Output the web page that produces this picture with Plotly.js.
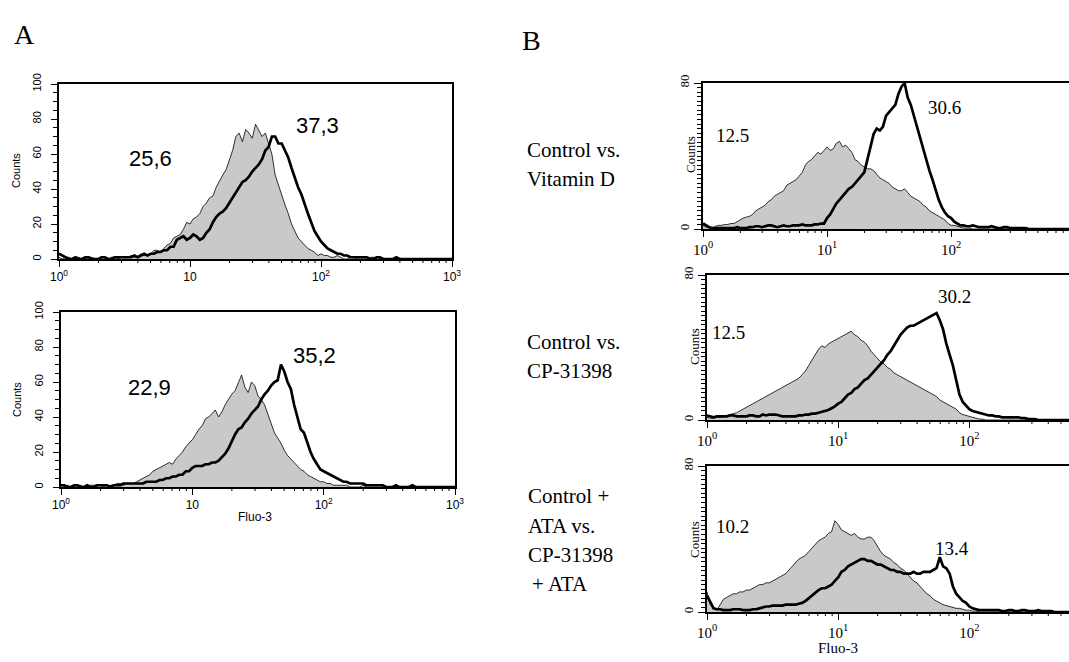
<!DOCTYPE html>
<html>
<head>
<meta charset="utf-8">
<script src="https://cdn.plot.ly/plotly-3.0.1.min.js"></script>
<style>
  html, body { margin: 0; padding: 0; background: #fff; }
  #chart { width: 1069px; height: 662px; }
</style>
</head>
<body>
<div id="chart"></div>
<script>
// ---- Data ----
// Histogram bins: log10 of Fluo-3 fluorescence, 0 .. 3 in steps of 0.025
const logBins = [
  0.000,0.025,0.050,0.075,0.100,0.125,0.150,0.175,0.200,0.225,0.250,0.275,0.300,0.325,0.350,0.375,0.400,0.425,0.450,0.475,0.500,
  0.525,0.550,0.575,0.600,0.625,0.650,0.675,0.700,0.725,0.750,0.775,0.800,0.825,0.850,0.875,0.900,0.925,0.950,0.975,1.000,
  1.025,1.050,1.075,1.100,1.125,1.150,1.175,1.200,1.225,1.250,1.275,1.300,1.325,1.350,1.375,1.400,1.425,1.450,1.475,1.500,
  1.525,1.550,1.575,1.600,1.625,1.650,1.675,1.700,1.725,1.750,1.775,1.800,1.825,1.850,1.875,1.900,1.925,1.950,1.975,2.000,
  2.025,2.050,2.075,2.100,2.125,2.150,2.175,2.200,2.225,2.250,2.275,2.300,2.325,2.350,2.375,2.400,2.425,2.450,2.475,2.500,
  2.525,2.550,2.575,2.600,2.625,2.650,2.675,2.700,2.725,2.750,2.775,2.800,2.825,2.850,2.875,2.900,2.925,2.950,2.975,3.000];

// Panel A, top (counts 0-100)
const a1Control = [1,0,1,1,0,1,1,0,0,1,1,0,0,1,1,0,1,1,0,1,1,
  1,2,1,1,3,2,2,3,5,5,4,6,8,9,12,13,14,17,21,20,
  23,24,26,30,32,35,36,41,45,48,51,57,62,70,72,67,74,72,69,77,
  73,70,72,66,60,48,42,36,31,26,20,16,12,10,8,6,5,4,2,3,
  2,2,1,1,2,1,0,0,1,1,0,0,0,0,1,1,0,0,0,0,
  0,0,0,0,0,0,0,0,0,0,0,0,0,0,0,0,0,0,0,0];
const a1Treated = [3,2,1,0,0,1,0,0,1,1,0,0,0,1,1,0,0,1,1,1,1,
  1,1,2,1,2,3,2,3,3,4,4,5,5,7,7,11,12,13,11,12,
  14,13,11,12,15,17,21,24,26,27,29,32,35,38,41,44,45,47,50,52,
  54,57,62,64,70,70,66,66,62,58,52,46,41,37,31,26,21,16,13,10,
  8,6,5,4,3,3,2,2,1,1,1,1,1,1,0,0,1,1,0,0,
  0,0,1,0,0,0,0,0,0,0,0,0,0,0,0,0,0,0,0,0];
// Panel A, bottom
const a2Control = [0,0,1,0,0,1,1,0,0,1,1,1,1,0,0,1,1,2,2,1,2,
  2,2,3,4,5,6,7,9,10,11,12,13,14,13,16,18,20,23,25,27,
  30,33,35,39,40,42,44,40,43,47,50,53,55,60,64,57,54,60,58,52,
  50,47,42,36,31,28,25,21,18,16,14,12,10,9,7,6,5,4,3,3,
  2,2,1,1,1,1,1,0,0,0,0,1,0,0,0,0,0,0,0,0,
  0,0,0,0,0,0,0,0,0,0,0,0,0,0,0,0,0,0,0,0];
const a2Treated = [1,1,0,0,1,1,0,0,1,0,0,1,1,1,1,0,1,1,1,2,2,
  2,2,2,2,2,3,3,3,3,4,4,5,5,6,6,7,7,9,9,11,
  12,12,12,13,13,14,14,15,17,19,22,26,30,33,34,37,39,42,44,46,
  50,53,55,58,60,61,70,66,60,56,47,40,33,31,25,20,16,13,10,9,
  8,7,6,5,4,3,3,2,2,2,2,2,1,1,1,1,1,1,0,0,
  0,1,0,0,0,0,1,0,0,0,0,0,0,0,0,0,0,0,0,0];
// Panel B: Control vs. Vitamin D (counts 0-80)
const b1Control = [2,1,1,0.5,1.5,2,2,2.5,2.5,3,3,4,5,6,6.5,7,8,10,11,12,13,
  15,16,18,19,20,21,24,25,26,27,29,31,35,37,38,40,42,41,43,45,
  43,44,47,48,45,46,44,42,38,37,35,34,33,33,32,30,28,27,26,25,
  23,22,21,21,22,20,18,17,16,15,13,12,10,9,8,7,6,5,3,2,
  2,1.5,1,0.5,0.5,0.5,0,0,0,0,0,0,0,0,0,0,0,0,0,0,
  0,0,0,0,0,0,0,0,0,0,0,0,0,0,0,0,0,0,0,0];
const b1Treated = [3,2,1,0.5,0.5,0.5,0.5,0.5,0.5,0.5,0.5,1,0.5,0.5,0.5,1,1,1.5,1.5,1,1.5,
  2,2,1.5,1,1.5,2,1.5,1.5,2,2,2,2.5,2,2,2,2.5,2.5,3,3,6,
  8,11,14,16,18,20,22,23,25,27,29,31,38,45,52,55,54,56,62,64,
  66,68,74,78,80,72,68,62,56,49,43,38,32,27,21,16,12,9,7,6,
  4,3,2,2,1.5,1.5,2,1.5,1,1,1,1,1.5,1,0.5,0.5,1,1,0.5,0.5,
  0.5,0.5,0.5,0.5,0,0,0,0,0,0,0,0,0,0,0,0,0,0,0,0];
// Panel B: Control vs. CP-31398
const b2Control = [1.5,1,1,1.5,1.5,2,2,3,3.5,4,5,6,7,8,9,10,11,12,13,14,15,
  16,17,18,19,20,21,22,23,25,27,30,33,36,39,41,40,42,43,44,45,
  46,47,48,49,47,46,44,43,41,38,36,34,32,31,29,28,26,25,24,23,
  22,21,20,19,18,17,16,15,14,13,11,10,9,8,7,6,4,3,2.5,2,
  1.5,1,0.5,0.5,0,0,0,0,0,0,0,0,0,0,0,0,0,0,0,0,
  0,0,0,0,0,0,0,0,0,0,0,0,0,0,0,0,0,0,0,0];
const b2Treated = [2.5,2,1.5,2,2,2,2,2.5,2.5,2,2,2,2,2.5,2.5,2,2,3,2.5,3,3,
  3,2.5,2,2,2,2,2,2.5,2.5,3,3,3.5,3.5,4,4.5,5,5.5,6.5,7.5,9,
  10,12,14,15,17,18,20,22,23,25,27,29,31,33,36,38,41,44,47,49,
  51,52,52,53,54,55,56,57,58,59,55,50,42,36,30,22,14,10,8,6,
  5,4.5,4,3.5,3,2.5,2.5,2,2,1.5,1.5,1.5,1.5,1.5,1.5,1,1,0.5,0.5,0.5,
  0,0,0,0,0,0,0,0,0,0,0,0,0,0,0,0,0,0,0,0];
// Panel B: Control + ATA vs. CP-31398 + ATA
const b3Control = [11,4,2,1,4,7,8,9,10,10,11,11,12,12,13,14,15,15,16,16,17,
  18,19,20,21,23,25,27,29,30,31,33,35,37,39,40,41,43,44,50,48,
  45,44,43,42,43,41,40,40,41,41,39,36,33,31,30,29,27,26,24,23,
  21,19,17,16,14,12,10,9,7,6,5,4,3.5,3,2.5,2,2,1.5,1,1,
  0.5,0.5,0,0,0,0,0,0,0,0,0,0,0,0,0,0,0,0,0,0,
  0,0,0,0,0,0,0,0,0,0,0,0,0,0,0,0,0,0,0,0];
const b3Treated = [9,5,2,1.5,1.5,1,1,1,1.5,1.5,1.5,1,1,1,1.5,1.5,2,2.5,3,3,3.5,
  3.5,3.5,3.5,4,4,4,4,4.5,5,6,7.5,9,11,12,13,13,14,15,17,19,
  22,23,25,26,27,28,29,29,28,28,27,26,26,25,24,23,23,22,22,21,
  21,21,22,21,21,22,22,22,23,24,30,25,24,21,14,10,8,6,5,3,
  2,1.5,1,1,1,1,1,1,1,0.5,0.5,1,1,0.5,0.5,1,1,0.5,0.5,0.5,
  1,0.5,0.5,0.5,0.5,0,0,0,0,0,0,0,0,0,0,0,0,0,0,0];

// Text
const aTickText = ['10<sup>0</sup>','10','10<sup>2</sup>','10<sup>3</sup>'];
const bTickText = ['10<sup>0</sup>','10<sup>1</sup>','10<sup>2</sup>'];
const aMeans = [['25,6','37,3'],['22,9','35,2']];
const bMeans = [['12.5','30.6'],['12.5','30.2'],['10.2','13.4']];
const bSideLabels = [['Control vs.','Vitamin D'],['Control vs.','CP-31398'],['Control +','ATA vs.','CP-31398','+ ATA']];

// ---- Build ----
const W = 1069, H = 662;
const xs = logBins.map(e => Math.pow(10, e));
const SANS = 'Liberation Sans, Arial, sans-serif';
const SERIF = 'Liberation Serif, Times New Roman, serif';

const panels = [
  {c:a1Control, t:a1Treated},
  {c:a2Control, t:a2Treated},
  {c:b1Control, t:b1Treated},
  {c:b2Control, t:b2Treated},
  {c:b3Control, t:b3Treated}
];
const traces = [];
panels.forEach((p, i) => {
  const xa = i === 0 ? 'x' : 'x' + (i + 1);
  const ya = i === 0 ? 'y' : 'y' + (i + 1);
  traces.push({x: xs, y: p.c, xaxis: xa, yaxis: ya, type: 'scatter', mode: 'lines',
    line: {color: '#000', width: 0.8}, fill: 'tozeroy', fillcolor: '#c9c9c9',
    hoverinfo: 'skip', showlegend: false});
  traces.push({x: xs, y: p.t, xaxis: xa, yaxis: ya, type: 'scatter', mode: 'lines',
    line: {color: '#000', width: 2.7}, hoverinfo: 'skip', showlegend: false});
});

function xdom(l, r) { return [l / W, r / W]; }
function ydom(b, t) { return [1 - b / H, 1 - t / H]; }

const layout = {
  width: W, height: H,
  margin: {l: 0, r: 0, t: 0, b: 0},
  paper_bgcolor: '#fff', plot_bgcolor: '#fff',
  showlegend: false,
  annotations: [],
  shapes: []
};

// minor log ticks on the x axes (drawn as short lines under each axis)
function addMinorTicks(xref, bottomPx, maxLog) {
  for (let d = 0; d < 3; d++) {
    for (let m = 2; m <= 9; m++) {
      const v = m * Math.pow(10, d);
      if (Math.log10(v) > maxLog) continue;
      layout.shapes.push({type: 'line', xref: xref, yref: 'paper', x0: v, x1: v,
        y0: 1 - bottomPx / H, y1: 1 - (bottomPx + 4) / H,
        line: {color: '#000', width: 1}});
    }
  }
}

// A panels
const aBoxes = [[59, 452, 84, 259], [61, 455, 312, 487]];
aBoxes.forEach((b, i) => {
  const n = i === 0 ? '' : String(i + 1);
  layout['xaxis' + n] = {
    domain: xdom(b[0], b[1]), anchor: 'y' + n, type: 'log', range: [0, 3],
    tickmode: 'array', tickvals: [1, 10, 100, 1000], ticktext: aTickText,
    ticks: 'outside', ticklen: 6, tickwidth: 1, tickcolor: '#000',
    showline: true, linecolor: '#000', linewidth: 1.6, mirror: true,
    showgrid: false, zeroline: false, fixedrange: true,
    tickfont: {family: SANS, size: 12, color: '#000'}
  };
  layout['yaxis' + n] = {
    domain: ydom(b[3], b[2]), anchor: 'x' + n, range: [0, 100],
    tickmode: 'array', tickvals: [0, 20, 40, 60, 80, 100], tickangle: -90,
    ticks: 'outside', ticklen: 6, tickwidth: 1, tickcolor: '#000',
    minor: {dtick: 5, ticks: 'outside', ticklen: 4, tickcolor: '#000'},
    showline: true, linecolor: '#000', linewidth: 1.6, mirror: true,
    showgrid: false, zeroline: false, fixedrange: true, ticklabelstandoff: 6,
    tickfont: {family: SANS, size: 11, color: '#000'}
  };
  addMinorTicks(i === 0 ? 'x' : 'x' + n, b[3], 3);
});

// B panels
const bBoxes = [[703, 1069, 83, 229, 2.95], [707, 1069, 275, 420, 2.76], [707, 1069, 466, 612, 2.76]];
bBoxes.forEach((b, i) => {
  const n = String(i + 3);
  layout['xaxis' + n] = {
    domain: xdom(b[0], b[1]), anchor: 'y' + n, type: 'log', range: [0, b[4]],
    tickmode: 'array', tickvals: [1, 10, 100], ticktext: bTickText,
    ticks: 'outside', ticklen: 6, tickwidth: 1, tickcolor: '#000',
    showline: true, linecolor: '#000', linewidth: 1.6, mirror: true,
    showgrid: false, zeroline: false, fixedrange: true,
    tickfont: {family: SERIF, size: 15, color: '#000'}
  };
  layout['yaxis' + n] = {
    domain: ydom(b[3], b[2]), anchor: 'x' + n, range: [0, 80],
    tickmode: 'array', tickvals: [0, 80], tickangle: -90,
    ticks: 'outside', ticklen: 7, tickwidth: 1, tickcolor: '#000',
    minor: {dtick: 2.5, ticks: 'outside', ticklen: 4, tickcolor: '#000'},
    showline: true, linecolor: '#000', linewidth: 1.6, mirror: false,
    showgrid: false, zeroline: false, fixedrange: true,
    tickfont: {family: SERIF, size: 13, color: '#000'}
  };
  addMinorTicks('x' + n, b[3], b[4]);
});

function ann(text, x, y, font, extra) {
  layout.annotations.push(Object.assign({
    text: text, x: x / W, y: 1 - y / H, xref: 'paper', yref: 'paper',
    showarrow: false, xanchor: 'center', yanchor: 'middle', font: font
  }, extra || {}));
}

// Panel letters
ann('A', 24, 35, {family: SERIF, size: 28, color: '#000'});
ann('B', 531, 40, {family: SERIF, size: 28, color: '#000'});

// A: mean values, y titles, x title
const aMeanPos = [[[150, 159], [317, 126]], [[149, 387], [315, 355]]];
aMeans.forEach((pair, i) => pair.forEach((t, j) =>
  ann(t, aMeanPos[i][j][0], aMeanPos[i][j][1], {family: SANS, size: 22, color: '#000'})));
ann('Counts', 16, 171, {family: SANS, size: 11, color: '#000'}, {textangle: -90});
ann('Counts', 17, 400, {family: SANS, size: 11, color: '#000'}, {textangle: -90});
ann('Fluo-3', 255, 517, {family: SANS, size: 12, color: '#000'});

// B: mean values, side labels, y titles, x title
const bMeanPos = [[[732, 135], [944, 108]], [[728, 332], [954, 296]], [[732, 526], [952, 548]]];
bMeans.forEach((pair, i) => pair.forEach((t, j) =>
  ann(t, bMeanPos[i][j][0], bMeanPos[i][j][1], {family: SERIF, size: 19, color: '#000'})));
const sideY = [[150, 179], [342, 371], [496, 526, 555, 584]];
const sideX = [[525, 525], [525, 525], [526, 526, 526, 530]];
bSideLabels.forEach((lines, i) => lines.forEach((t, j) =>
  ann(t, sideX[i][j], sideY[i][j], {family: SERIF, size: 21, color: '#000'}, {xanchor: 'left'})));
ann('Counts', 690, 155, {family: SERIF, size: 13, color: '#000'}, {textangle: -90});
ann('Counts', 694, 347, {family: SERIF, size: 13, color: '#000'}, {textangle: -90});
ann('Counts', 694, 540, {family: SERIF, size: 13, color: '#000'}, {textangle: -90});
ann('Fluo-3', 838, 648, {family: SERIF, size: 15, color: '#000'});

Plotly.newPlot('chart', traces, layout, {displayModeBar: false, staticPlot: true});
</script>
</body>
</html>
